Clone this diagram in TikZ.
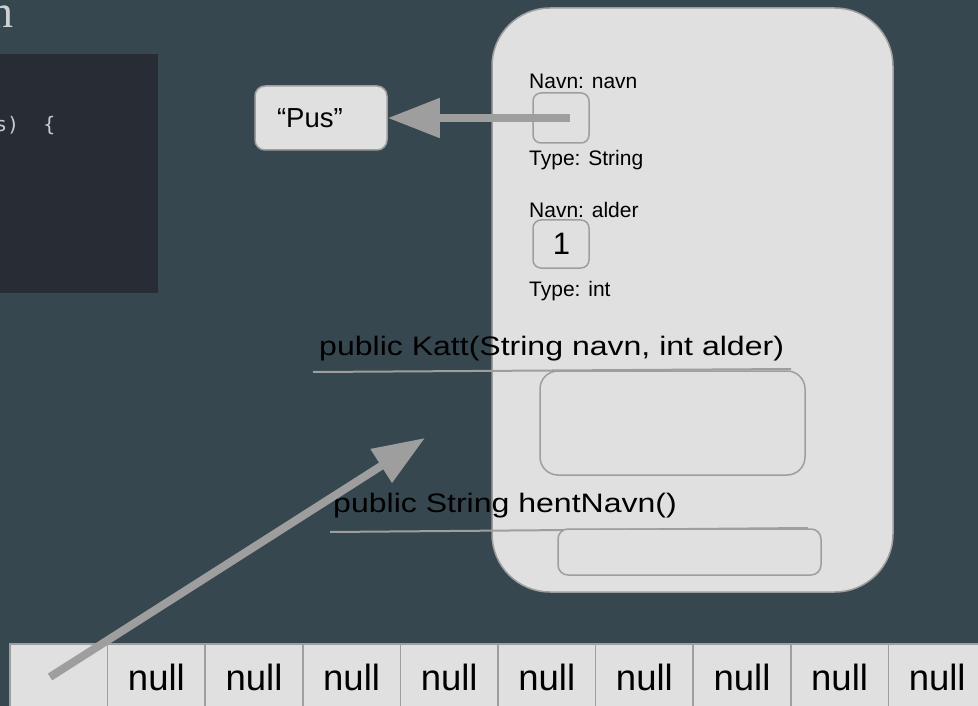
\documentclass[tikz,border=0pt]{standalone}
\usepackage{fontspec}
\setmainfont{Liberation Sans}
\newfontfamily\widesans[FakeStretch=1.2]{Liberation Sans}
\newfontfamily\codemono{DejaVu Sans Mono}
\newfontfamily\titleserif{Liberation Serif}
\usetikzlibrary{arrows.meta}

\definecolor{slate}{HTML}{37474F}
\definecolor{codebg}{HTML}{282C34}
\definecolor{codefg}{HTML}{C8CCD2}
\definecolor{titlefg}{HTML}{CFD2D4}
\definecolor{paper}{HTML}{E0E0E0}
\definecolor{rim}{HTML}{9E9E9E}

\tikzset{
  panel/.style={draw=rim, line width=1.5pt, fill=paper, inner sep=0pt},
  slotbox/.style={panel, rounded corners=8pt, minimum width=56pt},
  fieldtext/.style={anchor=base west, inner sep=0pt, text=black,
    font=\fontsize{21}{25}\selectfont},
  sigtext/.style={anchor=base west, inner sep=0pt, text=black,
    font=\widesans\fontsize{26.7}{30}\selectfont},
  sigline/.style={draw=rim, line width=2pt},
  arraycell/.style={panel, minimum width=97.6pt, minimum height=100pt},
  nulltext/.style={anchor=base, inner sep=0pt, text=black,
    font=\fontsize{36.5}{40}\selectfont},
  ptr/.style={draw=rim, fill=rim, line width=8pt,
    -{Triangle[length=52pt,width=38pt]}},
}

\begin{document}
\begin{tikzpicture}[x=1pt,y=-1pt]
\useasboundingbox (0,0) rectangle (978,706);
\clip (0,0) rectangle (978,706);
\fill[slate] (0,0) rectangle (978,706);

% code panel and title fragments on the left
\fill[codebg] (0,54) rectangle (158,293);
\node[anchor=base east, inner sep=0pt, text=titlefg,
  font=\titleserif\fontsize{46}{50}\selectfont] (title) at (13.5,28) {n};
\node[anchor=base west, inner sep=0pt, text=codefg,
  font=\codemono\fontsize{20}{24}\selectfont] (code) at (-5.1,132) {s)~~\{};

% the Katt object
\node[panel, rounded corners=58pt, minimum width=401pt, minimum height=584pt]
  (katt) at (692.5,300) {};

\node[fieldtext] (navnlabel) at (529,89) {Navn: navn};
\node[slotbox, minimum height=50pt] (navnslot) at (561,118) {};
\node[fieldtext] (navntype) at (529,166) {Type: String};

\node[fieldtext] (alderlabel) at (529,218) {Navn: alder};
\node[slotbox, minimum height=48pt] (alderslot) at (561,244) {};
\node[inner sep=0pt, font=\fontsize{31}{34}\selectfont] (aldervalue) at (561.5,244) {1};
\node[fieldtext] (aldertype) at (529,296) {Type: int};

\node[sigtext] (ctorsig) at (319,355) {public Katt(String navn, int alder)};
\coordinate (ctorlineA) at (313,372);
\coordinate (ctorlineB) at (791,369);
\draw[sigline] (ctorlineA) -- (ctorlineB);
\node[panel, rounded corners=18pt, minimum width=265pt, minimum height=104pt]
  (ctorbody) at (672.5,423) {};

\node[sigtext] (getsig) at (333,512) {public String hentNavn()};
\coordinate (getlineA) at (330,532);
\coordinate (getlineB) at (808,528);
\draw[sigline] (getlineA) -- (getlineB);
\node[panel, rounded corners=10pt, minimum width=263pt, minimum height=46pt]
  (getbody) at (689.5,552) {};

% the string object
\node[panel, rounded corners=10pt, minimum width=132pt, minimum height=64pt,
  text width=88pt, inner xsep=22pt, align=left,
  font=\fontsize{27.5}{30}\selectfont] (pus) at (321,118) {“Pus”};

% the array
\foreach \i in {0,...,9} {
  \node[arraycell] (cell\i) at ({10+97.6*\i+48.8},694) {};
}
\foreach \i in {1,...,9} {
  \node[nulltext] (null\i) at ({10+97.6*\i+48.8},690) {null};
}

% references
\coordinate (navnref) at (570,118);
\draw[ptr] (navnref) -- (pus.east);
\coordinate (arrref) at (50,677);
\coordinate (arrtip) at (425,438);
\draw[ptr] (arrref) -- (arrtip);
\end{tikzpicture}
\end{document}
